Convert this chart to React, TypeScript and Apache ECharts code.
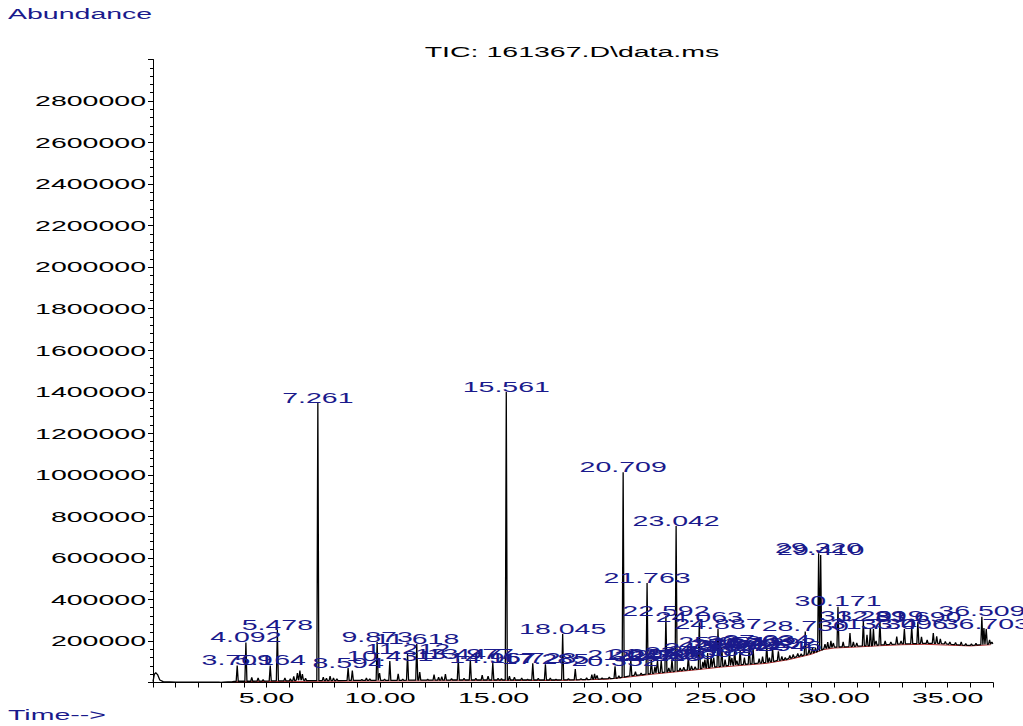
import React, { useEffect, useRef } from "react";
import * as echarts from "echarts";

// ---------- data ----------
const titleText = "TIC: 161367.D\\data.ms";
const yAxisName = "Abundance";
const xAxisName = "Time-->";

const yTicks = [200000, 400000, 600000, 800000, 1000000, 1200000, 1400000, 1600000, 1800000, 2000000, 2200000, 2400000, 2600000, 2800000];
const xTicks = [5, 10, 15, 20, 25, 30, 35];

// labelled peaks: [retention time label, apex abundance, foot abundance]
const labelledPeaks: [string, number, number][] = [
  ["3.709", 82000, 6000],
  ["4.092", 192000, 6000],
  ["5.164", 82000, 8000],
  ["5.478", 253000, 8000],
  ["7.261", 1346000, 9000],
  ["8.594", 70000, 10000],
  ["9.873", 195000, 10000],
  ["10.431", 103000, 10000],
  ["11.212", 137000, 11000],
  ["11.618", 185000, 11000],
  ["13.447", 113000, 12000],
  ["13.977", 110000, 12000],
  ["14.967", 94000, 12000],
  ["15.561", 1399000, 12000],
  ["16.728", 92000, 12000],
  ["17.285", 88000, 12000],
  ["18.045", 233000, 13000],
  ["20.352", 78000, 20000],
  ["20.709", 1013000, 26000],
  ["21.047", 108000, 32000],
  ["21.763", 479000, 40000],
  ["21.952", 110000, 43000],
  ["22.223", 104000, 46000],
  ["22.386", 106000, 48000],
  ["22.592", 320000, 50000],
  ["22.860", 112000, 53000],
  ["23.042", 753000, 55000],
  ["23.580", 122000, 61000],
  ["24.063", 290000, 66000],
  ["24.431", 142000, 71000],
  ["24.583", 126000, 73000],
  ["24.887", 257000, 76000],
  ["25.054", 172000, 78000],
  ["25.392", 152000, 82000],
  ["25.622", 162000, 84000],
  ["25.861", 156000, 86000],
  ["26.263", 174000, 89000],
  ["26.432", 166000, 91000],
  ["27.034", 178000, 97000],
  ["27.292", 165000, 101000],
  ["27.546", 150000, 106000],
  ["28.730", 245000, 133000],
  ["29.320", 622000, 150000],
  ["29.410", 614000, 155000],
  ["30.171", 365000, 171000],
  ["31.289", 296000, 176000],
  ["31.734", 257000, 178000],
  ["32.019", 294000, 181000],
  ["33.096", 257000, 186000],
  ["33.690", 292000, 187000],
  ["36.509", 317000, 182000],
  ["36.703", 258000, 184000],
];

// unlabelled peaks: [time, apex abundance, foot abundance]
const minorPeaks: [number, number, number][] = [
  [4.35, 24000, 6000], [4.63, 22000, 7000], [4.85, 14000, 7000], [5.81, 22000, 8000],
  [6.05, 18000, 8000], [6.2, 30000, 8000], [6.36, 45000, 12000], [6.47, 58000, 15000],
  [6.58, 40000, 12000], [6.72, 20000, 9000], [7.5, 26000, 9000], [7.64, 20000, 9000],
  [7.8, 30000, 9000], [7.95, 22000, 9000], [8.1, 18000, 9000], [8.78, 58000, 10000],
  [9.2, 15000, 10000], [9.4, 22000, 10000], [9.55, 18000, 10000], [9.98, 45000, 10000],
  [10.2, 16000, 10000], [10.8, 42000, 10000], [11.0, 16000, 10000], [11.75, 50000, 11000],
  [12.1, 16000, 11000], [12.38, 38000, 11000], [12.58, 25000, 11000], [12.72, 28000, 11000],
  [12.88, 40000, 11000], [13.15, 18000, 12000], [13.7, 20000, 12000], [14.22, 20000, 12000],
  [14.5, 35000, 12000], [14.76, 30000, 12000], [15.2, 20000, 12000], [15.35, 18000, 12000],
  [15.7, 30000, 12000], [15.92, 25000, 12000], [16.24, 22000, 12000], [16.5, 16000, 12000],
  [16.97, 20000, 12000], [17.5, 22000, 12000], [17.75, 16000, 12000], [18.3, 18000, 13000],
  [18.6, 65000, 13000], [18.85, 18000, 14000], [19.1, 22000, 14000], [19.33, 38000, 15000],
  [19.45, 42000, 16000], [19.56, 34000, 16000], [19.78, 22000, 17000], [20.1, 26000, 19000],
  [20.52, 32000, 22000], [21.25, 52000, 35000], [21.5, 45000, 37000], [22.11, 76000, 45000],
  [22.72, 70000, 52000], [23.22, 70000, 57000], [23.38, 74000, 59000], [23.72, 80000, 62000],
  [23.88, 76000, 64000], [24.22, 100000, 68000], [24.31, 110000, 70000], [24.7, 120000, 74000],
  [25.2, 110000, 80000], [25.5, 118000, 83000], [25.72, 105000, 85000], [26.05, 120000, 87000],
  [26.7, 115000, 93000], [26.85, 125000, 95000], [27.15, 120000, 99000], [27.7, 125000, 108000],
  [27.85, 120000, 110000], [28.05, 130000, 116000], [28.2, 135000, 120000], [28.4, 140000, 125000],
  [28.55, 138000, 128000], [28.9, 162000, 138000], [29.05, 170000, 142000], [29.18, 168000, 146000],
  [29.6, 185000, 164000], [29.72, 195000, 166000], [29.86, 200000, 168000], [29.97, 190000, 170000],
  [30.4, 195000, 172000], [30.7, 238000, 173000], [30.85, 195000, 174000], [31.0, 190000, 175000],
  [31.45, 230000, 177000], [31.6, 262000, 177000], [31.85, 200000, 179000], [32.25, 200000, 182000],
  [32.5, 195000, 184000], [32.76, 221000, 185000], [32.95, 200000, 186000], [33.42, 268000, 187000],
  [33.85, 220000, 188000], [34.1, 205000, 188000], [34.37, 238000, 188000], [34.52, 222000, 188000],
  [34.68, 210000, 187000], [34.9, 198000, 186000], [35.1, 195000, 184000], [35.35, 192000, 182000],
  [35.6, 195000, 180000], [35.8, 188000, 179000], [36.05, 186000, 179000], [36.25, 188000, 180000],
  [36.6, 262000, 183000], [36.85, 205000, 185000], [36.95, 195000, 186000],
];

// trace before the first peak (solvent bump) and at the end
const startTrace: [number, number][] = [
  [0, 4000], [0.06, 40000], [0.12, 47000], [0.2, 38000], [0.3, 12000], [0.45, 4000],
  [1.0, 2000], [2.0, 2000], [2.9, 1500], [3.0, 500], [3.1, 2000], [3.5, 4000],
];
const endTrace: [number, number][] = [[37.0, 186000]];

// integration baseline (red)
const integrationBaseline: [number, number][] = [
  [3.5, 4000], [10, 7000], [18, 10000], [20, 16000], [21, 27000], [22, 40000], [23, 51000],
  [24, 62000], [25, 74000], [26, 83000], [27, 92000], [28, 110000], [29, 136000], [29.5, 158000],
  [30, 166000], [31, 171000], [32, 177000], [33, 182000], [34, 184000], [35, 180000], [36, 176000],
  [36.9, 182000],
];

// ---------- styling ----------
const FONT = '15px "Liberation Sans", Arial, sans-serif';
const SX = 1.9;
const NAVY = "#1a1a8c";
const HALF_WIDTH = 0.045;

export default function App() {
  const ref = useRef<HTMLDivElement>(null);

  useEffect(() => {
    if (!ref.current) return;
    const chart = echarts.init(ref.current, undefined, { renderer: "svg" });

    const allPeaks: [number, number, number][] = [
      ...labelledPeaks.map(([rt, a, f]) => [parseFloat(rt), a, f] as [number, number, number]),
      ...minorPeaks,
    ];
    const trace: [number, number][] = [
      ...startTrace,
      ...allPeaks.flatMap(([t, a, f]) => [
        [t - HALF_WIDTH, f],
        [t, a],
        [t + HALF_WIDTH, f],
      ] as [number, number][]),
      ...endTrace,
    ].sort((p, q) => p[0] - q[0]);

    const option: any = {
      animation: false,
      grid: { left: 153, right: 30, top: 59.5, bottom: 43.5 },
      xAxis: {
        type: "value",
        min: 0,
        max: 37,
        interval: 1,
        axisLine: { show: true, lineStyle: { color: "#000", width: 1 } },
        axisTick: { show: true, interval: 0, length: 5, lineStyle: { color: "#000" } },
        axisLabel: { show: false },
        splitLine: { show: false },
      },
      yAxis: {
        type: "value",
        min: 0,
        max: 3000000,
        interval: 200000,
        axisLine: { show: true, lineStyle: { color: "#000", width: 1 } },
        axisTick: { show: true, interval: 0, length: 5, lineStyle: { color: "#000" } },
        minorTick: { show: true, splitNumber: 5, length: 3, lineStyle: { color: "#000" } },
        axisLabel: { show: false },
        splitLine: { show: false },
      },
      graphic: [
        {
          type: "text", x: 8, y: 14, scaleX: SX, silent: true,
          style: { text: yAxisName, fill: NAVY, font: FONT, align: "left", verticalAlign: "middle" },
        },
        {
          type: "text", x: 572, y: 52, scaleX: SX, silent: true,
          style: { text: titleText, fill: "#000", font: FONT, align: "center", verticalAlign: "middle" },
        },
        {
          type: "text", x: 8, y: 715, scaleX: SX, silent: true,
          style: { text: xAxisName, fill: NAVY, font: FONT, align: "left", verticalAlign: "middle" },
        },
      ],
      series: [
        {
          type: "line",
          name: "baseline",
          data: integrationBaseline,
          showSymbol: false,
          silent: true,
          z: 2,
          lineStyle: { color: "#b02a2a", width: 1 },
        },
        {
          type: "line",
          name: "TIC",
          data: trace,
          showSymbol: false,
          silent: true,
          z: 3,
          lineStyle: { color: "#000", width: 1.3 },
        },
        {
          type: "custom",
          name: "peak labels",
          coordinateSystem: "cartesian2d",
          clip: false,
          silent: true,
          z: 5,
          data: labelledPeaks.map(([rt, a]) => [parseFloat(rt), a]),
          renderItem: (params: any, api: any) => {
            const p = api.coord([api.value(0), api.value(1)]);
            return {
              type: "text",
              x: p[0],
              y: p[1] + 2,
              scaleX: SX,
              style: {
                text: labelledPeaks[params.dataIndex][0],
                fill: NAVY,
                font: FONT,
                align: "center",
                verticalAlign: "bottom",
              },
            };
          },
        },
        {
          type: "custom",
          name: "y tick labels",
          coordinateSystem: "cartesian2d",
          clip: false,
          silent: true,
          data: yTicks.map((v) => [0, v]),
          renderItem: (params: any, api: any) => {
            const p = api.coord([api.value(0), api.value(1)]);
            return {
              type: "text",
              x: p[0] - 7,
              y: p[1],
              scaleX: SX,
              style: {
                text: String(yTicks[params.dataIndex]),
                fill: "#000",
                font: FONT,
                align: "right",
                verticalAlign: "middle",
              },
            };
          },
        },
        {
          type: "custom",
          name: "x tick labels",
          coordinateSystem: "cartesian2d",
          clip: false,
          silent: true,
          data: xTicks.map((t) => [t, 0]),
          renderItem: (params: any, api: any) => {
            const p = api.coord([api.value(0), api.value(1)]);
            return {
              type: "text",
              x: p[0],
              y: p[1] + 8,
              scaleX: SX,
              style: {
                text: xTicks[params.dataIndex].toFixed(2),
                fill: "#000",
                font: FONT,
                align: "center",
                verticalAlign: "top",
              },
            };
          },
        },
      ],
    };

    chart.setOption(option);
    return () => chart.dispose();
  }, []);

  return (
    <div
      ref={ref}
      style={{ position: "absolute", left: 0, top: 0, width: 1023, height: 726, background: "#fff" }}
    />
  );
}
